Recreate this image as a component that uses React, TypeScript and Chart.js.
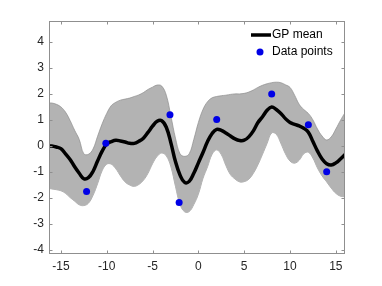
import { useEffect, useRef } from "react";
import { Chart, registerables } from "chart.js";

Chart.register(...registerables);

const GRID_X = [
  -16.3, -16, -15.5, -15, -14.5, -14, -13.5, -13, -12.5, -12, -11.5, -11, -10.5, -10, -9.5, -9,
  -8.5, -8, -7.5, -7, -6.5, -6, -5.5, -5, -4.5, -4, -3.5, -3, -2.5, -2, -1.5, -1, -0.5, 0,
  0.5, 1, 1.5, 2, 2.5, 3, 3.5, 4, 4.5, 5, 5.5, 6, 6.5, 7, 7.5, 8, 8.5, 9, 9.5, 10, 10.5, 11,
  11.5, 12, 12.5, 13, 13.5, 14, 14.5, 15, 15.5, 16,
];
const GP_MEAN = [
  0.0, 0.0, -0.04, -0.1, -0.3, -0.52, -0.8, -1.05, -1.26, -1.22, -0.98, -0.58, -0.2, 0.08, 0.17, 0.22,
  0.19, 0.15, 0.1, 0.1, 0.18, 0.3, 0.52, 0.76, 0.95, 0.97, 0.72, 0.12, -0.6, -1.12, -1.4, -1.36, -1.05, -0.65,
  -0.25, 0.17, 0.48, 0.64, 0.6, 0.5, 0.38, 0.27, 0.21, 0.22, 0.35, 0.58, 0.9, 1.12, 1.37, 1.5, 1.4, 1.25, 1.05, 0.9, 0.83, 0.77,
  0.68, 0.53, 0.17, -0.2, -0.5, -0.68, -0.73, -0.65, -0.5, -0.33,
];
const BAND_UPPER = [
  1.65, 1.65, 1.6, 1.5, 1.3, 0.98, 0.6, 0.25, -0.3, -0.32, -0.12, 0.37, 0.85, 1.25, 1.55, 1.68,
  1.76, 1.8, 1.84, 1.9, 1.96, 2.05, 2.17, 2.26, 2.34, 2.3, 1.95, 1.15, 0.3, -0.3, -0.4, -0.3, 0.25, 0.9,
  1.4, 1.7, 1.85, 1.9, 1.93, 1.95, 1.98, 2.0, 2.0, 2.02, 2.07, 2.15, 2.25, 2.33, 2.39, 2.43, 2.45, 2.43, 2.35, 2.25, 1.95, 1.6,
  1.4, 1.25, 1.0, 0.65, 0.38, 0.23, 0.35, 0.65, 0.98, 1.28,
];
const BAND_LOWER = [
  -1.63, -1.65, -1.68, -1.72, -1.82, -1.98, -2.12, -2.26, -2.29, -2.2, -1.9, -1.45, -0.95, -0.7, -0.7, -0.88,
  -1.15, -1.38, -1.5, -1.55, -1.48, -1.32, -1.05, -0.68, -0.4, -0.27, -0.38, -0.8, -1.55, -2.25, -2.53, -2.52, -2.25, -1.85,
  -1.25, -0.8, -0.32, -0.15, -0.33, -0.75, -1.1, -1.27, -1.38, -1.37, -1.28, -1.05, -0.72, -0.32, 0.1, 0.5, 0.45, 0.1, -0.3, -0.58, -0.66, -0.55,
  -0.3, -0.24, -0.47, -0.85, -1.15, -1.38, -1.62, -1.82, -1.93, -1.95,
];
const DATA_X = [-12.2, -10.1, -3.1, -2.1, 2, 8, 12, 14];
const DATA_Y = [-1.75, 0.1, 1.2, -2.17, 1.02, 2.0, 0.81, -0.99];

const X_TICKS = [-15, -10, -5, 0, 5, 10, 15];
const Y_TICKS = [-4, -3, -2, -1, 0, 1, 2, 3, 4];
const X_MIN = -16.3;
const X_MAX = 16;
const Y_MIN = -4.15;
const Y_MAX = 4.8;
const LEGEND_LABELS = ["GP mean", "Data points"];

const FONT_FAMILY = "Helvetica, 'Liberation Sans', Arial, sans-serif";
const TEXT_COLOR = "#262626";
const BAND_COLOR = "#b3b3b3";
const BAND_EDGE = "#8c8c8c";
const MEAN_COLOR = "#000000";
const POINT_COLOR = "#0000e6";

const framePlugin = {
  id: "matlabFrame",
  afterDraw(chart: any) {
    const { ctx, chartArea: a, scales } = chart;
    ctx.save();
    ctx.strokeStyle = "#8f8f8f";
    ctx.lineWidth = 1;
    const l = Math.round(a.left) + 0.5;
    const r = Math.round(a.right) - 0.5;
    const t = Math.round(a.top) + 0.5;
    const b = Math.round(a.bottom) - 0.5;
    ctx.strokeRect(l, t, r - l, b - t);
    const tl = 3;
    ctx.beginPath();
    for (const v of X_TICKS) {
      const px = Math.round(scales.x.getPixelForValue(v)) + 0.5;
      ctx.moveTo(px, b);
      ctx.lineTo(px, b - tl);
      ctx.moveTo(px, t);
      ctx.lineTo(px, t + tl);
    }
    for (const v of Y_TICKS) {
      const py = Math.round(scales.y.getPixelForValue(v)) + 0.5;
      ctx.moveTo(l, py);
      ctx.lineTo(l + tl, py);
      ctx.moveTo(r, py);
      ctx.lineTo(r - tl, py);
    }
    ctx.stroke();

    // legend
    const lx = a.right - 94;
    const ly1 = a.top + 14;
    const ly2 = a.top + 31;
    ctx.strokeStyle = MEAN_COLOR;
    ctx.lineWidth = 3.5;
    ctx.beginPath();
    ctx.moveTo(lx, ly1);
    ctx.lineTo(lx + 20, ly1);
    ctx.stroke();
    ctx.fillStyle = POINT_COLOR;
    ctx.beginPath();
    ctx.arc(lx + 9, ly2, 3.5, 0, Math.PI * 2);
    ctx.fill();
    ctx.fillStyle = "#000";
    ctx.font = `12px ${FONT_FAMILY}`;
    ctx.textBaseline = "middle";
    ctx.textAlign = "left";
    ctx.fillText(LEGEND_LABELS[0], lx + 21, ly1);
    ctx.fillText(LEGEND_LABELS[1], lx + 21, ly2);
    ctx.restore();
  },
};

export default function App() {
  const ref = useRef<HTMLCanvasElement | null>(null);

  useEffect(() => {
    document.body.style.margin = "0";
    const canvas = ref.current;
    if (!canvas) return;
    const meanData = GRID_X.map((x, i) => ({ x, y: GP_MEAN[i] }));
    const upperData = GRID_X.map((x, i) => ({ x, y: BAND_UPPER[i] }));
    const lowerData = GRID_X.map((x, i) => ({ x, y: BAND_LOWER[i] }));
    const pointData = DATA_X.map((x, i) => ({ x, y: DATA_Y[i] }));

    const chart = new Chart(canvas, {
      type: "line",
      data: {
        datasets: [
          {
            label: LEGEND_LABELS[1],
            data: pointData,
            showLine: false,
            pointRadius: 3.5,
            pointBackgroundColor: POINT_COLOR,
            pointBorderWidth: 0,
            borderColor: POINT_COLOR,
            order: 0,
          },
          {
            label: LEGEND_LABELS[0],
            data: meanData,
            borderColor: MEAN_COLOR,
            borderWidth: 3.5,
            pointRadius: 0,
            tension: 0.4,
            fill: false,
            order: 1,
          },
          {
            label: "upper",
            data: upperData,
            borderColor: BAND_EDGE,
            borderWidth: 0.7,
            pointRadius: 0,
            tension: 0.4,
            backgroundColor: BAND_COLOR,
            fill: "+1",
            order: 2,
          },
          {
            label: "lower",
            data: lowerData,
            borderColor: BAND_EDGE,
            borderWidth: 0.7,
            pointRadius: 0,
            tension: 0.4,
            fill: false,
            order: 3,
          },
        ],
      },
      options: {
        responsive: false,
        animation: false,
        events: [],
        layout: { padding: { top: 21, right: 37, left: 0, bottom: 0 } },
        plugins: { legend: { display: false }, tooltip: { enabled: false } },
        scales: {
          x: {
            type: "linear",
            min: X_MIN,
            max: X_MAX,
            afterBuildTicks: (s: any) => {
              s.ticks = X_TICKS.map((v) => ({ value: v }));
            },
            afterFit: (s: any) => {
              s.height = 32;
            },
            grid: { display: false, drawTicks: false },
            border: { display: false },
            ticks: {
              color: TEXT_COLOR,
              font: { family: FONT_FAMILY, size: 12 },
              padding: 5,
              maxRotation: 0,
              autoSkip: false,
            },
          },
          y: {
            type: "linear",
            min: Y_MIN,
            max: Y_MAX,
            afterBuildTicks: (s: any) => {
              s.ticks = Y_TICKS.map((v) => ({ value: v }));
            },
            afterFit: (s: any) => {
              s.width = 49;
            },
            grid: { display: false, drawTicks: false },
            border: { display: false },
            ticks: {
              color: TEXT_COLOR,
              font: { family: FONT_FAMILY, size: 12 },
              padding: 5,
              autoSkip: false,
            },
          },
        },
      },
      plugins: [framePlugin],
    });
    return () => chart.destroy();
  }, []);

  return (
    <div style={{ width: 382, height: 286, background: "#fff" }}>
      <canvas ref={ref} width={382} height={286} style={{ display: "block" }} />
    </div>
  );
}
